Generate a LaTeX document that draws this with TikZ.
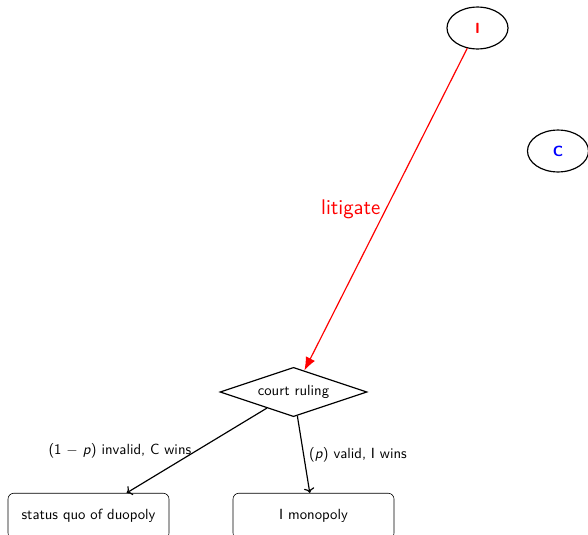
\documentclass[tikz,border=0pt]{standalone}
\usepackage{amsmath, amssymb}
\usepackage{xcolor}
\usepackage{tikz}
\usetikzlibrary{shapes.geometric, arrows.meta}
\renewcommand{\familydefault}{\sfdefault}

\begin{document}
\begin{tikzpicture}[x=0.68pt, y=-0.68pt,
		player/.style={draw, thick, ellipse, minimum width=41.5pt, minimum height=28.5pt, font=\bfseries},
		chance/.style={draw, thick, diamond, aspect=3, minimum width=100pt, minimum height=33.5pt, inner sep=1pt},
		outcome/.style={draw, rounded corners=4pt, minimum width=109.5pt, minimum height=31pt},
		move/.style={->, thick}]
				\useasboundingbox (0,0) rectangle (588,534);

				\node[player, text=red] (inc) at (477.5,28) {I};
				\node[player, text=blue] (ent) at (558,151) {C};
				\node[chance] (court) at (293.5,392) {court ruling};
				\node[outcome] (duo) at (88.5,516) {status quo of duopoly};
				\node[outcome] (mono) at (313.5,516) {I monopoly};

				\draw[red, thick, -{Latex[length=9pt, width=7pt]}] (inc) -- node[midway, left, font=\Large] {litigate} (court);
				\draw[move] (court) -- node[midway, left] {(1 $-$ \textit{p}) invalid, C wins} (duo);
				\draw[move] (court) -- node[midway, right] {(\textit{p}) valid, I wins} (mono);
			\end{tikzpicture}
\end{document}
